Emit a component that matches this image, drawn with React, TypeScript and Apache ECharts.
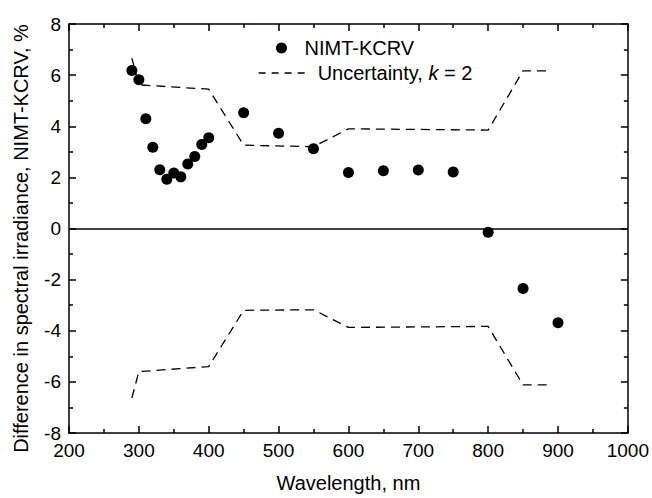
import React, { useEffect, useRef } from "react";
import * as echarts from "echarts";

const wavelengths = [290, 300, 310, 320, 330, 340, 350, 360, 370, 380, 390, 400, 450, 500, 550, 600, 650, 700, 750, 800, 850, 900];
const differences = [6.18, 5.82, 4.29, 3.18, 2.3, 1.93, 2.17, 2.02, 2.52, 2.82, 3.29, 3.55, 4.53, 3.73, 3.12, 2.19, 2.26, 2.29, 2.21, -0.15, -2.35, -3.69];

const uncWavelengths = [290, 300, 400, 450, 550, 600, 800, 850, 890];
const uncUpper = [6.66, 5.62, 5.45, 3.26, 3.2, 3.9, 3.85, 6.17, 6.17];
const uncLower = [-6.63, -5.6, -5.4, -3.2, -3.18, -3.87, -3.83, -6.12, -6.12];

const xTicks = { min: 200, max: 1000, interval: 100 };
const yTicks = { min: -8, max: 8, interval: 2 };

const FONT = "'Liberation Sans', Arial, sans-serif";

export default function App() {
  const ref = useRef<HTMLDivElement>(null);
  useEffect(() => {
    if (!ref.current) return;
    const chart = echarts.init(ref.current, undefined, { renderer: "svg" });
    const black = "#000";
    const axisCommon = (show: boolean) => ({
      axisLine: { show: true, onZero: false, lineStyle: { color: black, width: 1.5 } },
      axisTick: { show: true, inside: true, length: 7, lineStyle: { color: black, width: 1.5 } },
      minorTick: { show: true, splitNumber: 2, length: 4, lineStyle: { color: black, width: 1.5 } },
      splitLine: { show: false },
      minorSplitLine: { show: false },
      axisLabel: {
        show,
        color: black,
        fontSize: 19,
        fontFamily: FONT,
        margin: 8,
        formatter: (v: number) => String(v),
      },
    });
    const dash = [9, 6];
    chart.setOption({
      animation: false,
      backgroundColor: "#fff",
      textStyle: { fontFamily: FONT },
      grid: { left: 69, right: 24, top: 24, bottom: 63, containLabel: false },
      legend: [
        {
          data: ["NIMT-KCRV"],
          left: 271,
          top: 33,
          itemWidth: 36,
          itemHeight: 11,
          textStyle: { color: black, fontSize: 20, fontFamily: FONT },
          selectedMode: false,
        },
        {
          data: ["Uncertainty"],
          left: 253,
          top: 58,
          itemWidth: 47,
          itemHeight: 11,
          formatter: () => "Uncertainty, {k|k} = 2",
          lineStyle: { type: [7, 6], width: 1.3, color: black },
          itemStyle: { color: "rgba(0,0,0,0)", borderColor: "rgba(0,0,0,0)", borderWidth: 0 },
          textStyle: {
            color: black,
            fontSize: 20,
            fontFamily: FONT,
            padding: [0, 0, 0, 7],
            rich: { k: { fontStyle: "italic", fontSize: 20, fontFamily: FONT, color: black } },
          },
          selectedMode: false,
        },
      ],
      xAxis: [
        {
          type: "value",
          position: "bottom",
          ...xTicks,
          ...axisCommon(true),
          name: "Wavelength, nm",
          nameLocation: "middle",
          nameGap: 40,
          nameTextStyle: { color: black, fontSize: 20, fontFamily: FONT },
        },
        {
          type: "value",
          position: "top",
          ...xTicks,
          ...axisCommon(false),
        },
      ],
      yAxis: [
        {
          type: "value",
          position: "left",
          ...yTicks,
          ...axisCommon(true),
          name: "Difference in spectral irradiance, NIMT-KCRV, %",
          nameLocation: "middle",
          nameGap: 38,
          nameTextStyle: { color: black, fontSize: 20, fontFamily: FONT, padding: [0, 20, 0, 0] },
        },
        {
          type: "value",
          position: "right",
          ...yTicks,
          ...axisCommon(false),
        },
      ],
      series: [
        {
          name: "NIMT-KCRV",
          type: "scatter",
          symbol: "circle",
          symbolSize: 11,
          itemStyle: { color: black, opacity: 1 },
          data: wavelengths.map((w, i) => [w, differences[i]]),
          markLine: {
            silent: true,
            symbol: "none",
            label: { show: false },
            lineStyle: { type: "solid", color: black, width: 1.5 },
            data: [{ yAxis: 0 }],
          },
          z: 3,
        },
        {
          name: "Uncertainty",
          type: "line",
          symbol: "none",
          showSymbol: false,
          lineStyle: { type: dash, width: 1.3, color: black },
          itemStyle: { color: black },
          data: uncWavelengths.map((w, i) => [w, uncUpper[i]]),
        },
        {
          name: "Uncertainty",
          type: "line",
          symbol: "none",
          showSymbol: false,
          lineStyle: { type: dash, width: 1.3, color: black },
          itemStyle: { color: black },
          data: uncWavelengths.map((w, i) => [w, uncLower[i]]),
        },
      ],
    });
    return () => chart.dispose();
  }, []);
  return (
    <div
      ref={ref}
      style={{ position: "fixed", left: 0, top: 0, width: 652, height: 498, background: "#fff" }}
    />
  );
}
